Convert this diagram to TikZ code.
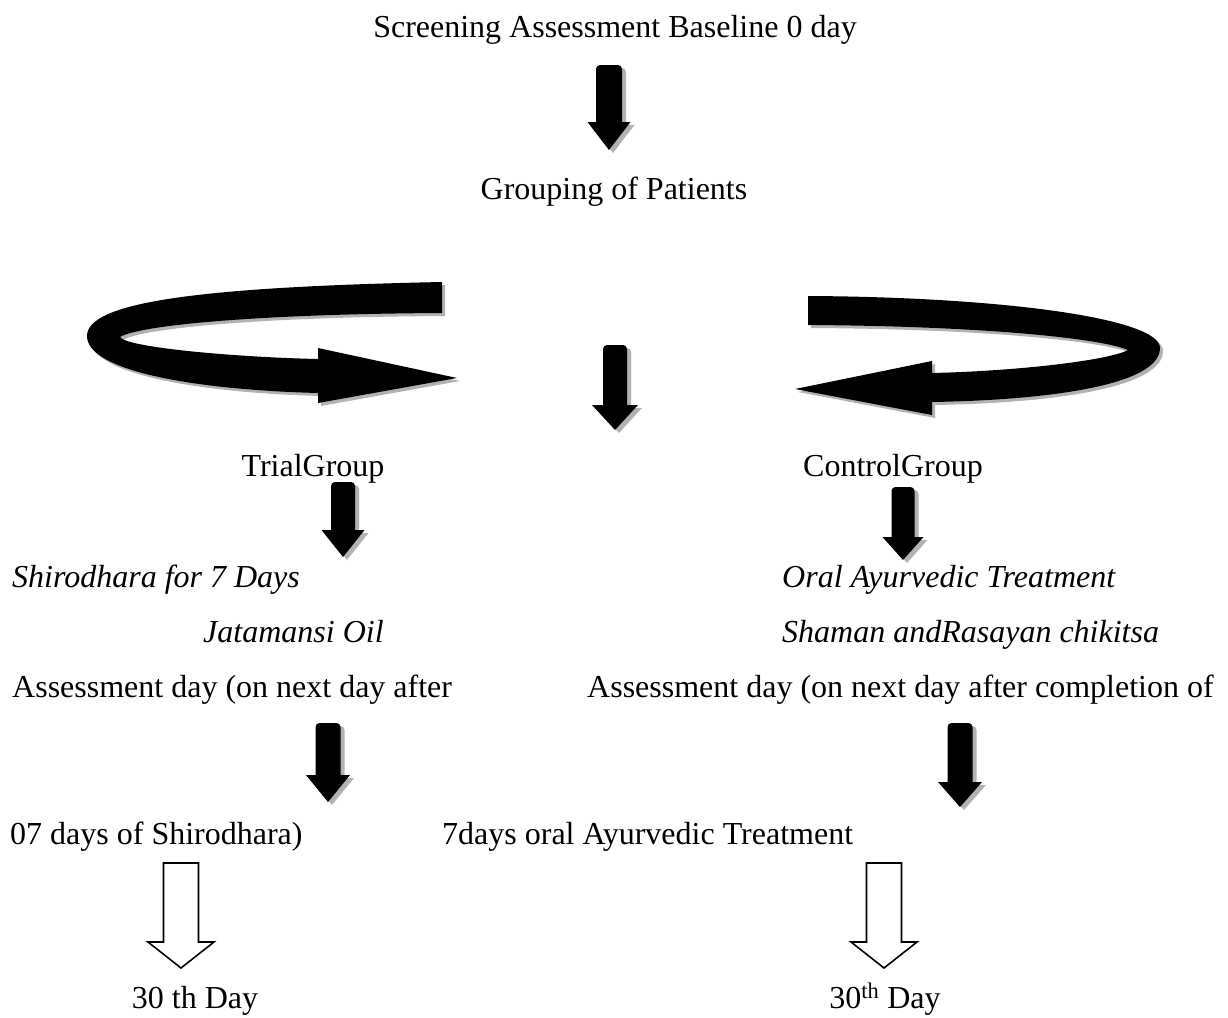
\documentclass[tikz,border=0pt]{standalone}
\usepackage{fontspec}
\setmainfont{Liberation Serif}

\begin{document}
\begin{tikzpicture}[x=1pt, y=-1pt,
  txt/.style={inner sep=0pt, font=\fontsize{32}{38}\selectfont},
  itx/.style={inner sep=0pt, font=\fontsize{32}{38}\selectfont\itshape},
  blk/.style={fill=black},
  shd/.style={fill=black!30},
  hollow/.style={draw=black, line width=1.6pt, fill=white, line join=miter}]
\useasboundingbox (0,0) rectangle (1228,1017);
\node[txt, anchor=base] (screen) at (615,37) {Screening Assessment Baseline 0 day};
\node[txt, anchor=base] (group) at (614,199) {Grouping of Patients};
\node[txt, anchor=base] (trial) at (313,476) {TrialGroup};
\node[txt, anchor=base] (ctrl) at (893,476) {ControlGroup};
\node[itx, anchor=base west] (shiro) at (12,587) {Shirodhara for 7 Days};
\node[itx, anchor=base west] (oil) at (203,642) {Jatamansi Oil};
\node[itx, anchor=base west] (oral) at (782,587) {Oral Ayurvedic Treatment};
\node[itx, anchor=base west] (shaman) at (782,642) {Shaman andRasayan chikitsa};
\node[txt, anchor=base west] (assessL) at (12,697) {Assessment day (on next day after};
\node[txt, anchor=base west] (assessR) at (587,697) {Assessment day (on next day after completion of};
\node[txt, anchor=base west] (sevenL) at (10,844) {07 days of Shirodhara)};
\node[txt, anchor=base west] (sevenR) at (442,844) {7days oral Ayurvedic Treatment};
\node[txt, anchor=base] (dayL) at (195,1008) {30 th Day};
\node[txt, anchor=base] (dayR) at (885,1008) {30\textsuperscript{th} Day};
\foreach \cx/\tp/\hb/\tip/\sw/\hw in {609/65/122/150/13/21.5, 615/345/405/430/12/23,
    343/482/530/557/12/21.5, 903/487/537/560/11.5/20.5,
    328/723/775/802/12.5/22, 960/723/782/807/12.5/22} {
  \fill[shd, shift={(4,3)}] (\cx-\sw,\hb) [rounded corners=4pt] -- (\cx-\sw,\tp) -- (\cx+\sw,\tp)
    [sharp corners] -- (\cx+\sw,\hb) -- (\cx+\hw,\hb) -- (\cx,\tip) -- (\cx-\hw,\hb) -- cycle;
  \fill[blk] (\cx-\sw,\hb) [rounded corners=4pt] -- (\cx-\sw,\tp) -- (\cx+\sw,\tp)
    [sharp corners] -- (\cx+\sw,\hb) -- (\cx+\hw,\hb) -- (\cx,\tip) -- (\cx-\hw,\hb) -- cycle;
}
\foreach \sh/\st in {3/shd, 0/blk} {
  \fill[\st, shift={(\sh,\sh)}] (442,282) .. controls (200,287) and (87,302) .. (87,336)
    .. controls (87,372) and (200,390) .. (318,393) -- (318,403) -- (457,378) -- (318,348)
    -- (318,359) .. controls (230,357) and (125,347) .. (120,337)
    .. controls (140,325) and (260,314) .. (442,313) -- cycle;
  \fill[\st, shift={(\sh,\sh)}] (808,296) .. controls (1000,297) and (1160,318) .. (1160,348)
    .. controls (1160,385) and (1050,400) .. (932,402) -- (932,415) -- (795,389) -- (932,361)
    -- (932,373) .. controls (1020,371) and (1110,360) .. (1128,350)
    .. controls (1100,338) and (980,326) .. (808,325) -- cycle;
}
\foreach \cx in {181,884}
  \draw[hollow] (\cx-17.5,863) -- (\cx+17.5,863) -- (\cx+17.5,942) -- (\cx+33,942)
    -- (\cx,968) -- (\cx-33,942) -- (\cx-17.5,942) -- cycle;
\end{tikzpicture}
\end{document}
